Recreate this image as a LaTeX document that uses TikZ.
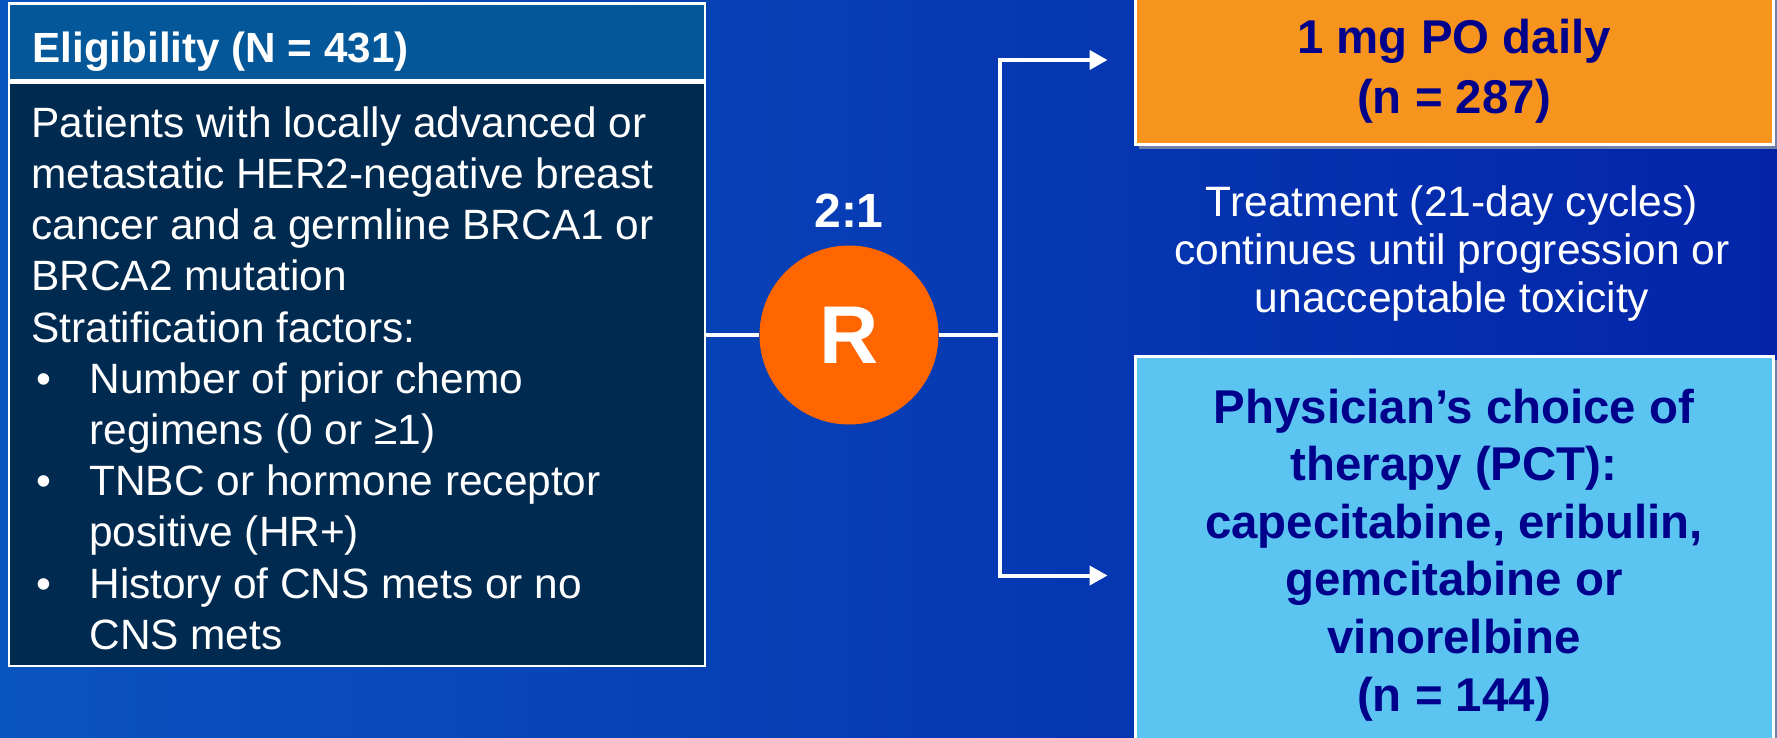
\documentclass[tikz,border=0pt]{standalone}
\usepackage{fontspec}
\setmainfont{Liberation Sans}
\usepackage{tikz}
\usetikzlibrary{calc,arrows.meta,shadows}

\definecolor{bgleft}{HTML}{0A54BF}
\definecolor{bgright}{HTML}{0324A9}
\definecolor{hdrblue}{HTML}{04589A}
\definecolor{bodynavy}{HTML}{002A50}
\definecolor{rorange}{HTML}{FF6600}
\definecolor{armorange}{HTML}{F7941D}
\definecolor{armcyan}{HTML}{5BC4F1}
\definecolor{armtext}{HTML}{00008B}
\definecolor{shadowgray}{HTML}{7080A8}

\begin{document}
\begin{tikzpicture}[x=0.5pt,y=-0.5pt,>={Triangle[length=9pt,width=9.5pt]},
  link/.style={draw=white,line width=2pt},
  panel/.style={draw=white,line width=1.3pt,inner sep=0pt,minimum width=348pt},
  armbox/.style={draw=white,line width=1.5pt,inner sep=0pt,minimum width=319pt,
    drop shadow={shadow xshift=2pt,shadow yshift=-2pt,fill=shadowgray,opacity=1}},
  bodytxt/.style={text=white,inner sep=0pt,anchor=base west,font=\fontsize{21.2}{25.6}\selectfont},
  armtxt/.style={text=armtext,inner sep=0pt,anchor=base,align=center,font=\fontsize{23.7}{28.8}\selectfont\bfseries}]
  \useasboundingbox (0,0) rectangle (1777,738);
  \clip (0,0) rectangle (1777,738);
  \shade[left color=bgleft,right color=bgright] (0,0) rectangle (1777,738);

  % eligibility panel (multi-line texts sit on their last baseline)
  \node[panel,fill=bodynavy,minimum height=291.5pt] (elig) at (357,374.5) {};
  \node[panel,fill=hdrblue,minimum height=38.5pt,anchor=south] (hdr) at (elig.north) {};
  \node[bodytxt,font=\fontsize{21.1}{25.6}\selectfont\bfseries] (hdrtxt) at (32,63) {Eligibility (N = 431)};
  \node[bodytxt,align=left] (crit) at (31,342) {Patients with locally advanced or\\metastatic HER2-negative breast\\cancer and a germline BRCA1 or\\BRCA2 mutation\\Stratification factors:};
  \foreach \yy/\txt [count=\i] in {393/{Number of prior chemo\\regimens (0 or ≥1)},495/{TNBC or hormone receptor\\positive (HR+)},598/{History of CNS mets or no\\CNS mets}}{
    \node[bodytxt] (dot\i) at (36,\yy) {•};
    \node[bodytxt,align=left] (item\i) at (89,{\yy+51.2}) {\txt};
  }

  % randomisation
  \node[circle,fill=rorange,minimum size=89.5pt,inner sep=0pt,text=white,font=\fontsize{41}{41}\selectfont\bfseries] (R) at (849,335) {R};
  \node[text=white,font=\fontsize{24}{24}\selectfont\bfseries] (ratio) at (849,211) {2:1};

  % arms
  \node[armbox,fill=armorange,minimum height=85pt] (drug) at (1454,60) {};
  \node[armtxt,font=\fontsize{23.7}{29.5}\selectfont\bfseries] (drugtxt) at (1454,113) {1 mg PO daily\\(n = 287)};
  \node[text=white,inner sep=0pt,anchor=base,align=center,font=\fontsize{21.25}{23.8}\selectfont] (cycle) at (1452,312) {Treatment (21-day cycles)\\continues until progression or\\unacceptable toxicity};
  \node[armbox,fill=armcyan,minimum height=219.5pt] (pct) at (1454,575.5) {};
  \node[armtxt] (pcttxt) at (1454,711) {Physician’s choice of\\therapy (PCT):\\capecitabine, eribulin,\\gemcitabine or\\vinorelbine\\(n = 144)};

  % connectors
  \coordinate (split) at (1000,335);
  \draw[link] (R.west -| elig.east) -- (R.west);
  \draw[link] (R.east) -- (split);
  \draw[link,->,shorten >=13pt] (split) |- (drug.west);
  \draw[link,->,shorten >=13pt] (split) |- (pct.west);
\end{tikzpicture}
\end{document}
